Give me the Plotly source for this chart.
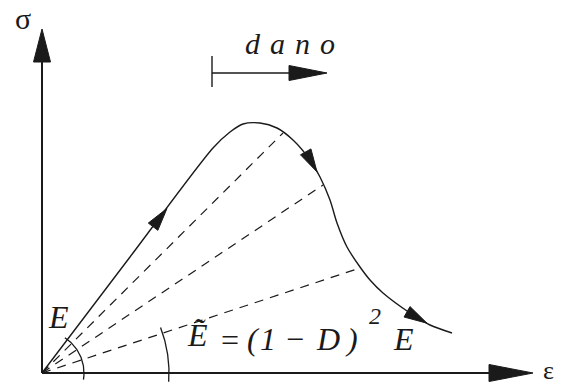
import numpy as np
import plotly.graph_objects as go

INK = "#1a1a1a"

# axis extents (origin of the sigma-epsilon diagram at 0,0)
eps_axis_end = 491
sig_axis_end = 344

# loading path: linear elastic branch, peak, softening branch
strain = [0, 88, 171, 188, 201, 218, 235, 251, 268, 278, 288, 295, 305, 318, 328, 341, 368, 388, 410]
stress = [0, 116, 225, 241, 249, 250, 245, 233, 213, 196, 173, 150, 126, 106, 93, 80, 60, 48, 40]

# damaged states reached on the softening branch (secant moduli)
damaged_strain = [241, 281, 318]
damaged_stress = [240, 188, 105]

# strain at the tip of each direction arrow drawn on the path
arrow_strain = [125, 275, 385]


def head(tip_x, tip_y, dx, dy, length, width):
    """Filled triangular arrowhead with its tip at (tip_x, tip_y)."""
    n = np.hypot(dx, dy)
    ux, uy = dx / n, dy / n
    px, py = -uy, ux
    bx, by = tip_x - length * ux, tip_y - length * uy
    xs = [tip_x, bx + width / 2 * px, bx - width / 2 * px, tip_x]
    ys = [tip_y, by + width / 2 * py, by - width / 2 * py, tip_y]
    return go.Scatter(x=xs, y=ys, mode="lines", fill="toself", fillcolor=INK,
                      line=dict(color=INK, width=1), hoverinfo="skip")


def arc(r, a0, a1, n=60):
    t = np.radians(np.linspace(a0, a1, n))
    return go.Scatter(x=r * np.cos(t), y=r * np.sin(t), mode="lines",
                      line=dict(color=INK, width=1.3), hoverinfo="skip")


fig = go.Figure()

# axes
fig.add_trace(go.Scatter(x=[0, 0], y=[0, sig_axis_end - 10], mode="lines",
                         line=dict(color=INK, width=2), hoverinfo="skip"))
fig.add_trace(go.Scatter(x=[0, eps_axis_end - 10], y=[0, 0], mode="lines",
                         line=dict(color=INK, width=2), hoverinfo="skip"))
fig.add_trace(head(0, sig_axis_end, 0, 1, 33, 17))
fig.add_trace(head(eps_axis_end, 0, 1, 0, 44, 17))

# secant lines to the damaged states
for ds, dsig in zip(damaged_strain, damaged_stress):
    fig.add_trace(go.Scatter(x=[0, ds], y=[0, dsig], mode="lines",
                             line=dict(color=INK, width=1.2, dash="9px,7px"),
                             hoverinfo="skip"))

# stress-strain path
fig.add_trace(go.Scatter(x=strain, y=stress, mode="lines",
                         line=dict(color=INK, width=1.4, shape="spline", smoothing=0.8),
                         hoverinfo="skip"))

# direction arrows along the path
for s in arrow_strain:
    y0 = np.interp(s, strain, stress)
    dy = np.interp(s + 4, strain, stress) - np.interp(s - 4, strain, stress)
    fig.add_trace(head(s, y0, 8, dy, 23, 12))

# angle arcs: initial modulus and damaged modulus
fig.add_trace(arc(42, 57, -9))
fig.add_trace(arc(127, 21, -4))

# damage evolution arrow
fig.add_trace(go.Scatter(x=[170, 170], y=[286, 317], mode="lines",
                         line=dict(color=INK, width=1.4), hoverinfo="skip"))
fig.add_trace(go.Scatter(x=[170, 260], y=[300, 300], mode="lines",
                         line=dict(color=INK, width=1.4), hoverinfo="skip"))
fig.add_trace(head(285, 300, 1, 0, 38, 15))

serif_it = "Liberation Serif"
labels = [
    # text, x, y, size
    ("σ", -19, 355, 30),
    ("ε", 506, 3, 26),
    ("d\u2004a\u2004n\u2004o", 248, 330, 30),
    ("E", 16, 56, 32),
    ("Ẽ", 155, 38, 32),
    ("=", 188, 33, 32),
    ("(", 211, 34, 32),
    ("1", 226, 34, 32),
    ("−", 253, 34, 32),
    ("D", 286, 34, 32),
    (")", 309, 34, 32),
    ("2", 333, 57, 24),
    ("E", 361, 34, 32),
]
for text, x, y, size in labels:
    fig.add_annotation(x=x, y=y, xref="x", yref="y", text=text, showarrow=False,
                       borderpad=0,
                       font=dict(family=serif_it, size=size, color=INK,
                                 style="italic" if text not in ("σ", "ε", "=", "−") else "normal"))

fig.update_layout(
    width=561, height=387,
    margin=dict(l=0, r=0, t=0, b=0),
    paper_bgcolor="white", plot_bgcolor="white",
    showlegend=False,
    xaxis=dict(range=[-42, 519], visible=False),
    yaxis=dict(range=[-14, 373], visible=False),
)

fig.write_html("out.html")
